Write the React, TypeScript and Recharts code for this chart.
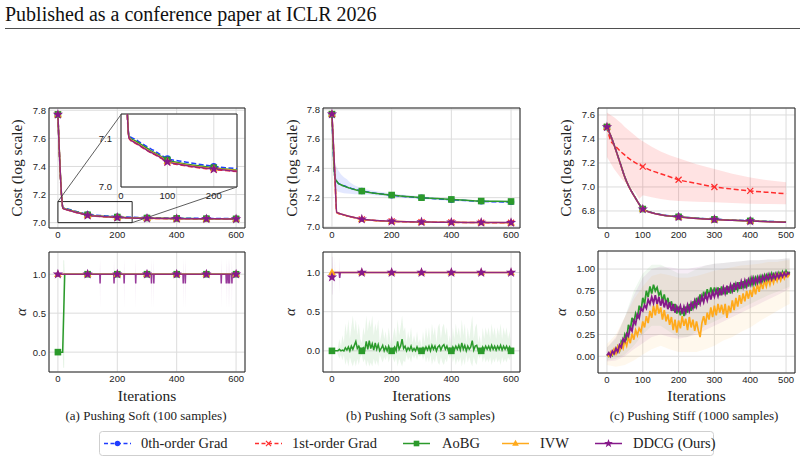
import React from "react";
import {
  ComposedChart,
  Line,
  Area,
  XAxis,
  YAxis,
  CartesianGrid,
  ReferenceArea,
  ReferenceLine,
} from "recharts";

const BLUE = "#1f3cff";
const RED = "#ff2d2d";
const GREEN = "#2b9a2b";
const ORANGE = "#ffaa1c";
const PURPLE = "#86198a";

const SERIF = '"Liberation Serif", "Times New Roman", Times, "DejaVu Serif", serif';
const SANS = '"Liberation Sans", Arial, sans-serif';

// ---------- (a) Pushing Soft, 100 samples: cost ----------
const costAIter = [0, 17, 20, 30, 40, 50, 60, 70, 80, 90, 100, 125, 150, 175, 200, 225, 250, 300, 350, 400, 450, 500, 550, 600];
const costA0th = [7.77, 7.108, 7.104, 7.099, 7.093, 7.087, 7.081, 7.076, 7.07, 7.064, 7.059, 7.054, 7.05, 7.046, 7.043, 7.04, 7.038, 7.035, 7.033, 7.032, 7.031, 7.03, 7.029, 7.029];
const costA1st = [7.77, 7.102, 7.097, 7.091, 7.085, 7.079, 7.073, 7.068, 7.063, 7.057, 7.051, 7.046, 7.042, 7.039, 7.036, 7.034, 7.032, 7.03, 7.029, 7.028, 7.027, 7.026, 7.026, 7.025];
const costAAobg = [7.77, 7.106, 7.101, 7.096, 7.09, 7.084, 7.078, 7.072, 7.067, 7.061, 7.056, 7.05, 7.046, 7.043, 7.04, 7.037, 7.035, 7.033, 7.031, 7.03, 7.029, 7.028, 7.028, 7.027];
const costAIvw = [7.77, 7.104, 7.099, 7.093, 7.087, 7.081, 7.075, 7.07, 7.065, 7.059, 7.053, 7.048, 7.044, 7.041, 7.038, 7.036, 7.034, 7.031, 7.03, 7.029, 7.028, 7.027, 7.027, 7.026];
const costADdcg = [7.77, 7.103, 7.098, 7.092, 7.086, 7.08, 7.074, 7.069, 7.064, 7.058, 7.052, 7.047, 7.043, 7.04, 7.037, 7.035, 7.033, 7.031, 7.03, 7.029, 7.028, 7.027, 7.027, 7.026];

// ---------- (b) Pushing Soft, 3 samples: cost ----------
const costBIter = [0, 10, 16, 20, 30, 40, 50, 60, 75, 100, 125, 150, 200, 250, 300, 350, 400, 450, 500, 550, 600];
const costB0th = [7.77, 7.34, 7.315, 7.302, 7.29, 7.281, 7.273, 7.266, 7.257, 7.246, 7.237, 7.229, 7.217, 7.207, 7.199, 7.192, 7.186, 7.18, 7.175, 7.172, 7.171];
const costB0thLo = [7.77, 7.27, 7.25, 7.24, 7.235, 7.23, 7.228, 7.226, 7.224, 7.224, 7.22, 7.214, 7.205, 7.197, 7.19, 7.184, 7.178, 7.172, 7.167, 7.164, 7.163];
const costB0thHi = [7.77, 7.43, 7.41, 7.39, 7.36, 7.34, 7.325, 7.305, 7.285, 7.265, 7.252, 7.243, 7.229, 7.218, 7.209, 7.2, 7.194, 7.188, 7.183, 7.18, 7.179];
const costB1st = [7.77, 7.34, 7.098, 7.094, 7.087, 7.081, 7.075, 7.07, 7.063, 7.052, 7.047, 7.043, 7.038, 7.035, 7.033, 7.032, 7.031, 7.03, 7.03, 7.029, 7.029];
const costBAobg = [7.77, 7.335, 7.312, 7.3, 7.288, 7.279, 7.272, 7.265, 7.256, 7.245, 7.236, 7.229, 7.218, 7.208, 7.2, 7.194, 7.188, 7.182, 7.177, 7.175, 7.174];
const costBIvw = [7.77, 7.345, 7.099, 7.095, 7.088, 7.082, 7.076, 7.071, 7.064, 7.053, 7.047, 7.043, 7.039, 7.036, 7.034, 7.033, 7.032, 7.031, 7.03, 7.03, 7.029];
const costBDdcg = [7.77, 7.35, 7.1, 7.096, 7.089, 7.083, 7.077, 7.072, 7.065, 7.053, 7.048, 7.044, 7.039, 7.036, 7.034, 7.033, 7.032, 7.031, 7.031, 7.03, 7.03];

// ---------- (c) Pushing Stiff, 1000 samples: cost ----------
const costCIter = [0, 10, 20, 30, 40, 50, 60, 70, 80, 90, 100, 125, 150, 175, 200, 250, 300, 350, 400, 450, 500];
const costC0th = [7.5, 7.43, 7.35, 7.26, 7.17, 7.08, 7.01, 6.955, 6.905, 6.857, 6.817, 6.787, 6.77, 6.759, 6.752, 6.74, 6.731, 6.724, 6.718, 6.713, 6.708];
const costC1st = [7.5, 7.39, 7.35, 7.32, 7.29, 7.265, 7.24, 7.22, 7.2, 7.185, 7.17, 7.135, 7.11, 7.085, 7.06, 7.03, 7.0, 6.983, 6.967, 6.955, 6.944];
const costC1stLo = [7.25, 7.2, 7.15, 7.11, 7.07, 7.04, 7.01, 6.98, 6.95, 6.9, 6.93, 6.915, 6.9, 6.89, 6.883, 6.877, 6.873, 6.866, 6.86, 6.857, 6.855];
const costC1stHi = [7.62, 7.6, 7.58, 7.555, 7.53, 7.5, 7.475, 7.45, 7.425, 7.4, 7.38, 7.335, 7.295, 7.265, 7.24, 7.19, 7.15, 7.11, 7.078, 7.055, 7.04];
const costCAobg = [7.5, 7.43, 7.352, 7.262, 7.172, 7.082, 7.012, 6.957, 6.906, 6.857, 6.816, 6.786, 6.769, 6.758, 6.751, 6.739, 6.73, 6.723, 6.717, 6.712, 6.707];
const costCIvw = [7.5, 7.43, 7.348, 7.258, 7.168, 7.079, 7.009, 6.954, 6.904, 6.855, 6.815, 6.785, 6.768, 6.757, 6.75, 6.738, 6.729, 6.722, 6.716, 6.711, 6.706];
const costCDdcg = [7.5, 7.43, 7.35, 7.26, 7.17, 7.08, 7.01, 6.955, 6.905, 6.856, 6.815, 6.785, 6.768, 6.757, 6.75, 6.738, 6.729, 6.722, 6.716, 6.711, 6.706];

// ---------- (a) alpha ----------
const markIters = [0, 100, 200, 300, 400, 500, 600];
const alphaAAobgIter = [0, 16, 23, 100, 200, 300, 400, 500, 600];
const alphaAAobg = [0, 0, 1, 1, 1, 1, 1, 1, 1];
const alphaAAobgBandIter = [0, 16, 18, 21, 23, 600];
const alphaAAobgLo = [0, 0, -0.2, -0.2, 1, 1];
const alphaAAobgHi = [0, 0, 1.18, 1.18, 1, 1];
const alphaAIvw = [1, 1, 1, 1, 1, 1, 1];
const alphaADips = [142, 189, 223, 262, 315, 323, 422, 429, 550, 567, 573, 578, 586];
const alphaADipVal = [0.88, 0.88, 0.88, 0.88, 0.88, 0.88, 0.88, 0.88, 0.88, 0.88, 0.88, 0.88, 0.88];
const alphaADipLo = [0.55, 0.88, 0.55, 0.55, 0.55, 0.55, 0.55, 0.55, 0.55, 0.55, 0.55, 0.55, 0.55];
const alphaADipHi = [1.2, 1.2, 1.2, 1.2, 1.2, 1.2, 1.2, 1.2, 1.2, 1.2, 1.2, 1.2, 1.2];

// ---------- (b) alpha ----------
const alphaBIvw = [1, 1, 1, 1, 1, 1, 1];
const alphaBDdcgIter = [0, 3, 6, 9, 12, 24, 26, 28, 100, 200, 300, 400, 500, 600];
const alphaBDdcg = [0.94, 1, 0.96, 1, 1, 1, 0.93, 1, 1, 1, 1, 1, 1, 1];
const alphaBDdcgBandIter = [0, 2, 4, 9, 10, 11, 25, 26, 27, 600];
const alphaBDdcgLo = [0.72, 0.72, 1, 1, 0.75, 1, 1, 0.72, 1, 1];
const alphaBDdcgHi = [1.2, 1.2, 1, 1, 1.2, 1, 1, 1.2, 1, 1];
const alphaBIter = Array.from({ length: 121 }, (_, i) => i * 5);
const alphaBAobg = [
  0, 0, 0, 0, 0, 0.02, 0, 0.01, 0, 0.04, 0.01, 0.05, 0, 0.06, 0.02, 0.07, 0.12, 0.03, 0.06, 0.02,
  0, 0.04, 0.01, 0.12, 0.02, 0.13, 0.03, 0.09, 0.01, 0.1, 0.02, 0.08, 0, 0.03, 0.07, 0, 0.05, 0, 0.06, 0,
  0, 0.02, 0.05, 0, 0.12, 0.02, 0.06, 0.15, 0.03, 0.06, 0, 0.04, 0.01, 0.06, 0, 0.03, 0, 0.05, 0, 0.02,
  0, 0.04, 0, 0.05, 0.01, 0.06, 0, 0.07, 0.02, 0.06, 0, 0.05, 0.07, 0.01, 0.06, 0.08, 0.02, 0.06, 0, 0.03,
  0, 0.05, 0.01, 0.06, 0.02, 0.07, 0.01, 0.1, 0.02, 0.07, 0, 0.06, 0.02, 0.05, 0.13, 0.01, 0.06, 0.07, 0, 0.02,
  0, 0.05, 0.01, 0.06, 0.02, 0.06, 0.01, 0.07, 0.02, 0.06, 0.01, 0.06, 0.02, 0.07, 0.01, 0.06, 0.02, 0.06, 0.01, 0.05,
  0,
];
const alphaBAobgHi = [
  0, 0, 0, 0, 0.05, 0.15, 0.05, 0.2, 0.1, 0.35, 0.2, 0.4, 0.15, 0.3, 0.45, 0.25, 0.4, 0.2, 0.35, 0.15,
  0.1, 0.3, 0.2, 0.45, 0.25, 0.4, 0.3, 0.45, 0.2, 0.35, 0.25, 0.4, 0.1, 0.2, 0.3, 0.15, 0.25, 0.1, 0.3, 0.15,
  0.05, 0.2, 0.3, 0.15, 0.4, 0.2, 0.3, 0.45, 0.25, 0.3, 0.1, 0.25, 0.15, 0.3, 0.1, 0.2, 0.1, 0.25, 0.1, 0.15,
  0.05, 0.25, 0.1, 0.3, 0.15, 0.3, 0.1, 0.35, 0.2, 0.3, 0.1, 0.3, 0.35, 0.15, 0.3, 0.35, 0.2, 0.3, 0.1, 0.2,
  0.05, 0.3, 0.15, 0.35, 0.2, 0.3, 0.15, 0.4, 0.2, 0.35, 0.1, 0.3, 0.15, 0.3, 0.45, 0.15, 0.3, 0.35, 0.1, 0.2,
  0.05, 0.3, 0.15, 0.3, 0.2, 0.3, 0.15, 0.35, 0.2, 0.3, 0.15, 0.3, 0.2, 0.35, 0.15, 0.3, 0.2, 0.3, 0.15, 0.25,
  0.05,
];
const alphaBAobgLo = [
  0, 0, 0, 0, -0.05, -0.1, -0.05, -0.12, -0.05, -0.18, -0.1, -0.2, -0.08, -0.15, -0.2, -0.12, -0.2, -0.1, -0.18, -0.08,
  -0.05, -0.15, -0.1, -0.2, -0.12, -0.2, -0.15, -0.2, -0.1, -0.18, -0.12, -0.2, -0.05, -0.1, -0.15, -0.08, -0.12, -0.05, -0.15, -0.08,
  -0.03, -0.1, -0.15, -0.08, -0.2, -0.1, -0.15, -0.2, -0.12, -0.15, -0.05, -0.12, -0.08, -0.15, -0.05, -0.1, -0.05, -0.12, -0.05, -0.08,
  -0.03, -0.12, -0.05, -0.15, -0.08, -0.15, -0.05, -0.18, -0.1, -0.15, -0.05, -0.15, -0.18, -0.08, -0.15, -0.18, -0.1, -0.15, -0.05, -0.1,
  -0.03, -0.15, -0.08, -0.18, -0.1, -0.15, -0.08, -0.2, -0.1, -0.18, -0.05, -0.15, -0.08, -0.15, -0.2, -0.08, -0.15, -0.18, -0.05, -0.1,
  -0.03, -0.15, -0.08, -0.15, -0.1, -0.15, -0.08, -0.18, -0.1, -0.15, -0.08, -0.15, -0.1, -0.18, -0.08, -0.15, -0.1, -0.15, -0.08, -0.12,
  -0.03,
];

// ---------- (c) alpha ----------
const alphaCIter = Array.from({ length: 103 }, (_, i) => i * 5);
const alphaCAobg = [
  0.02, 0, 0.04, 0.01, 0.07, 0.04, 0.11, 0.06, 0.17, 0.13, 0.25, 0.2, 0.36, 0.3, 0.44, 0.38, 0.49, 0.43, 0.58, 0.52,
  0.67, 0.6, 0.75, 0.68, 0.8, 0.72, 0.82, 0.75, 0.79, 0.7, 0.74, 0.63, 0.71, 0.6, 0.67, 0.56, 0.63, 0.52, 0.6, 0.49,
  0.57, 0.47, 0.55, 0.46, 0.57, 0.5, 0.6, 0.52, 0.63, 0.55, 0.67, 0.59, 0.71, 0.63, 0.74, 0.66, 0.77, 0.69, 0.79, 0.7,
  0.79, 0.71, 0.79, 0.7, 0.8, 0.71, 0.79, 0.71, 0.8, 0.72, 0.82, 0.74, 0.83, 0.76, 0.85, 0.77, 0.86, 0.78, 0.88, 0.8,
  0.89, 0.82, 0.9, 0.83, 0.91, 0.85, 0.92, 0.86, 0.93, 0.87, 0.94, 0.88, 0.95, 0.89, 0.95, 0.9, 0.96, 0.91, 0.97, 0.92,
  0.98, 0.93, 0.97,
];
const alphaCIvw = [
  0.02, 0, 0.05, 0.02, 0.08, 0.03, 0.11, 0.06, 0.14, 0.09, 0.18, 0.12, 0.22, 0.15, 0.26, 0.19, 0.3, 0.24, 0.32, 0.28,
  0.4, 0.33, 0.46, 0.38, 0.52, 0.44, 0.58, 0.47, 0.6, 0.49, 0.56, 0.42, 0.53, 0.4, 0.48, 0.36, 0.45, 0.3, 0.42, 0.27,
  0.41, 0.32, 0.46, 0.35, 0.43, 0.3, 0.45, 0.33, 0.42, 0.29, 0.4, 0.3, 0.22, 0.38, 0.46, 0.36, 0.5, 0.42, 0.56, 0.45,
  0.58, 0.47, 0.6, 0.5, 0.59, 0.48, 0.6, 0.44, 0.58, 0.5, 0.64, 0.53, 0.67, 0.57, 0.7, 0.6, 0.72, 0.63, 0.75, 0.66,
  0.76, 0.68, 0.8, 0.71, 0.83, 0.74, 0.85, 0.77, 0.87, 0.8, 0.89, 0.82, 0.9, 0.84, 0.92, 0.86, 0.93, 0.87, 0.94, 0.89,
  0.95, 0.91, 0.94,
];
const alphaCDdcg = [
  0.01, 0.04, 0, 0.06, 0.03, 0.09, 0.05, 0.13, 0.1, 0.2, 0.17, 0.26, 0.23, 0.33, 0.29, 0.41, 0.37, 0.48, 0.44, 0.55,
  0.52, 0.59, 0.55, 0.65, 0.6, 0.68, 0.61, 0.7, 0.6, 0.68, 0.58, 0.66, 0.56, 0.64, 0.54, 0.62, 0.52, 0.6, 0.5, 0.57,
  0.52, 0.58, 0.49, 0.57, 0.5, 0.59, 0.52, 0.61, 0.55, 0.64, 0.57, 0.66, 0.6, 0.69, 0.62, 0.71, 0.64, 0.73, 0.65, 0.74,
  0.68, 0.76, 0.69, 0.78, 0.7, 0.79, 0.72, 0.81, 0.73, 0.82, 0.75, 0.84, 0.76, 0.85, 0.77, 0.86, 0.79, 0.87, 0.8, 0.88,
  0.82, 0.9, 0.83, 0.9, 0.84, 0.91, 0.85, 0.92, 0.87, 0.93, 0.88, 0.94, 0.88, 0.94, 0.89, 0.95, 0.9, 0.95, 0.91, 0.96,
  0.92, 0.96, 0.94,
];
const alphaCBandIter = [0, 25, 50, 75, 100, 125, 150, 175, 200, 225, 250, 275, 300, 325, 350, 375, 400, 425, 450, 475, 500, 510];
const alphaCIvwLo = [-0.1, -0.12, -0.1, -0.05, 0.02, 0.08, 0.12, 0.08, 0.05, 0.05, 0.05, 0.08, 0.12, 0.18, 0.22, 0.28, 0.33, 0.4, 0.46, 0.52, 0.58, 0.6];
const alphaCIvwHi = [0.14, 0.25, 0.45, 0.65, 0.8, 0.92, 0.95, 0.93, 0.9, 0.9, 0.92, 0.95, 0.98, 1.0, 1.02, 1.04, 1.05, 1.06, 1.08, 1.08, 1.1, 1.1];
const alphaCDdcgLo = [-0.06, -0.05, 0.0, 0.08, 0.15, 0.22, 0.25, 0.22, 0.2, 0.22, 0.25, 0.3, 0.35, 0.4, 0.45, 0.5, 0.55, 0.6, 0.65, 0.7, 0.75, 0.78];
const alphaCDdcgHi = [0.1, 0.22, 0.45, 0.7, 0.9, 1.0, 1.03, 1.02, 1.0, 1.0, 1.02, 1.04, 1.06, 1.07, 1.08, 1.09, 1.1, 1.1, 1.11, 1.11, 1.12, 1.12];
const alphaCAobgLo = [-0.05, -0.03, 0.02, 0.12, 0.25, 0.35, 0.35, 0.28, 0.22, 0.22, 0.28, 0.35, 0.4, 0.45, 0.5, 0.55, 0.6, 0.65, 0.7, 0.74, 0.78, 0.8];
const alphaCAobgHi = [0.1, 0.2, 0.45, 0.75, 0.95, 1.05, 1.05, 1.0, 0.95, 0.95, 1.0, 1.04, 1.06, 1.07, 1.08, 1.09, 1.1, 1.1, 1.11, 1.11, 1.12, 1.12];

// ---------- helpers ----------
type Pt = { x: number; y: number | [number, number] };
const zip = (xs: number[], ys: number[]): Pt[] => xs.map((x, i) => ({ x, y: ys[i] }));
const band = (xs: number[], lo: number[], hi: number[]): Pt[] => xs.map((x, i) => ({ x, y: [lo[i], hi[i]] }));

// flat line at 1 with short downward spikes at the given iterations
const spikeLine = (marks: number[], dips: number[], vals: number[]): Pt[] =>
  [
    ...marks.map((x) => ({ x, y: 1 })),
    ...dips.flatMap((d, i) => [
      { x: d - 1, y: 1 },
      { x: d, y: vals[i] },
      { x: d + 1, y: 1 },
    ]),
  ].sort((a, b) => a.x - b.x);
const spikeBand = (dips: number[], lo: number[], hi: number[]): Pt[] =>
  [
    { x: 0, y: [1, 1] as [number, number] },
    ...dips.flatMap((d, i) => [
      { x: d - 1, y: [1, 1] as [number, number] },
      { x: d, y: [lo[i], hi[i]] as [number, number] },
      { x: d + 1, y: [1, 1] as [number, number] },
    ]),
    { x: 600, y: [1, 1] as [number, number] },
  ];

type Kind = "circle" | "x" | "square" | "triangle" | "star";

function starPath(cx: number, cy: number, R: number, r: number) {
  let d = "";
  for (let i = 0; i < 10; i++) {
    const rad = i % 2 === 0 ? R : r;
    const a = -Math.PI / 2 + (i * Math.PI) / 5;
    d += `${i === 0 ? "M" : "L"}${cx + rad * Math.cos(a)},${cy + rad * Math.sin(a)}`;
  }
  return d + "Z";
}

function Marker({ kind, cx, cy, color, s = 1 }: { kind: Kind; cx: number; cy: number; color: string; s?: number }) {
  switch (kind) {
    case "circle":
      return <circle cx={cx} cy={cy} r={3.2 * s} fill={color} />;
    case "x":
      return (
        <path
          d={`M${cx - 3 * s},${cy - 3 * s}L${cx + 3 * s},${cy + 3 * s}M${cx - 3 * s},${cy + 3 * s}L${cx + 3 * s},${cy - 3 * s}`}
          stroke={color}
          strokeWidth={1.2}
        />
      );
    case "square":
      return <rect x={cx - 3.3 * s} y={cy - 3.3 * s} width={6.6 * s} height={6.6 * s} fill={color} />;
    case "triangle":
      return <path d={`M${cx},${cy - 4.3 * s}L${cx + 3.9 * s},${cy + 2.7 * s}L${cx - 3.9 * s},${cy + 2.7 * s}Z`} fill={color} />;
    default:
      return <path d={starPath(cx, cy, 5.4 * s, 2.2 * s)} fill={color} />;
  }
}

const marks = (kind: Kind, color: string, last = 600) => (p: any) => {
  const { cx, cy, payload, index } = p;
  const key = `m${index}`;
  if (cx == null || cy == null || !payload || payload.x % 100 !== 0 || payload.x > last) return <g key={key} />;
  return (
    <g key={key}>
      <Marker kind={kind} cx={cx} cy={cy} color={color} />
    </g>
  );
};

function series(
  id: string,
  data: Pt[],
  color: string,
  kind: Kind | null,
  opts: { dash?: string; last?: number; curve?: "monotone" | "linear"; width?: number; opacity?: number } = {}
) {
  return (
    <Line
      key={id}
      data={data}
      dataKey="y"
      type={opts.curve ?? "monotone"}
      stroke={color}
      strokeWidth={opts.width ?? 1.5}
      strokeOpacity={opts.opacity ?? 1}
      strokeDasharray={opts.dash}
      dot={kind ? marks(kind, color, opts.last) : false}
      activeDot={false}
      isAnimationActive={false}
    />
  );
}

function shade(id: string, data: Pt[], color: string, opacity: number) {
  return (
    <Area
      key={id}
      data={data}
      dataKey="y"
      type="linear"
      fill={color}
      fillOpacity={opacity}
      stroke="none"
      dot={false}
      activeDot={false}
      isAnimationActive={false}
    />
  );
}

type Box = { left: number; top: number; width: number; height: number };
const YW = 44;
const XH = 22;
const PAD = 4;
const tickStyle = { fontSize: 9.5, fill: "#222", fontFamily: SANS };

function Panel(props: {
  box: Box;
  xDomain: [number, number];
  yDomain: [number, number];
  xTicks: number[];
  yTicks: number[];
  digits: number;
  bg?: string;
  xGap?: number;
  yGap?: number;
  children: React.ReactNode;
}) {
  const { box, xDomain, yDomain, xTicks, yTicks, digits } = props;
  return (
    <div style={{ position: "absolute", left: box.left - YW, top: box.top - PAD }}>
      <ComposedChart
        width={YW + box.width + PAD}
        height={PAD + box.height + XH}
        margin={{ top: PAD, right: PAD, bottom: 0, left: 0 }}
      >
        <CartesianGrid stroke="#dcdcdc" strokeWidth={1} fill={props.bg ?? "none"} />
        <XAxis
          type="number"
          dataKey="x"
          domain={xDomain}
          ticks={xTicks}
          interval={0}
          allowDataOverflow
          height={XH}
          tick={tickStyle}
          tickLine={false}
          axisLine={false}
          tickSize={props.xGap ?? 3}
          tickMargin={0}
        />
        <YAxis
          type="number"
          domain={yDomain}
          ticks={yTicks}
          interval={0}
          allowDataOverflow
          width={YW}
          tick={tickStyle}
          tickLine={false}
          axisLine={false}
          tickSize={props.yGap ?? 3}
          tickMargin={0}
          tickFormatter={(v: number) => v.toFixed(digits)}
        />
        {props.children}
        <ReferenceArea
          x1={xDomain[0]}
          x2={xDomain[1]}
          y1={yDomain[0]}
          y2={yDomain[1]}
          fill="none"
          stroke="#222"
          strokeWidth={1}
        />
      </ComposedChart>
    </div>
  );
}

const BOX_A_TOP: Box = { left: 49, top: 108, width: 196, height: 120 };
const BOX_B_TOP: Box = { left: 323, top: 108, width: 197, height: 120 };
const BOX_C_TOP: Box = { left: 598, top: 108, width: 197, height: 120 };
const BOX_A_BOT: Box = { left: 49, top: 252, width: 196, height: 120 };
const BOX_B_BOT: Box = { left: 323, top: 252, width: 197, height: 120 };
const BOX_C_BOT: Box = { left: 598, top: 251, width: 197, height: 122 };
const BOX_INSET: Box = { left: 121, top: 114, width: 116, height: 73 };

const SOFT_X: [number, number] = [-30, 630];
const STIFF_X: [number, number] = [-25, 525];
const SOFT_TICKS = [0, 200, 400, 600];
const STIFF_TICKS = [0, 100, 200, 300, 400, 500];
const COST_TICKS = [7.0, 7.2, 7.4, 7.6, 7.8];

// zoom window of the inset, and where the inset sits, in (a)'s data units
const ZOOM = { x1: 0, x2: 250, y1: 7.0, y2: 7.15 };
const INSET_AT = { x1: 212.5, x2: 603, y1: 7.254, y2: 7.769 };

function costASeries(prefix: string) {
  return [
    series(`${prefix}0`, zip(costAIter, costA0th), BLUE, "circle", { dash: "5 2.5" }),
    series(`${prefix}1`, zip(costAIter, costA1st), RED, "x", { dash: "5 2.5" }),
    series(`${prefix}2`, zip(costAIter, costAAobg), GREEN, "square"),
    series(`${prefix}3`, zip(costAIter, costAIvw), ORANGE, "triangle"),
    series(`${prefix}4`, zip(costAIter, costADdcg), PURPLE, "star", { opacity: 0.9 }),
  ];
}

const LEGEND: { label: string; color: string; kind: Kind; dash?: string; x: number; tx: number }[] = [
  { label: "0th-order Grad", color: BLUE, kind: "circle", dash: "4 2.5", x: 104, tx: 141 },
  { label: "1st-order Grad", color: RED, kind: "x", dash: "4 2.5", x: 255, tx: 292 },
  { label: "AoBG", color: GREEN, kind: "square", x: 403, tx: 442 },
  { label: "IVW", color: ORANGE, kind: "triangle", x: 502, tx: 540 },
  { label: "DDCG (Ours)", color: PURPLE, kind: "star", x: 595, tx: 633 },
];

const serifText = { fontFamily: SERIF };

function Overlay() {
  const costLabel = [16, 291.5, 565];
  const alphaLabel = [21, 289.5, 560.5];
  const iterLabel = [147, 421.5, 696.5];
  const captions = [
    { x: 146, t: "(a) Pushing Soft (100 samples)" },
    { x: 420.5, t: "(b) Pushing Soft (3 samples)" },
    { x: 694, t: "(c) Pushing Stiff (1000 samples)" },
  ];
  return (
    <svg width={804} height={462} style={{ position: "absolute", left: 0, top: 0, pointerEvents: "none" }}>
      <text x={5} y={21} fontSize={20} style={serifText} fill="#111">
        Published as a conference paper at ICLR 2026
      </text>
      <line x1={5} x2={800} y1={28.5} y2={28.5} stroke="#222" strokeWidth={0.8} />
      {costLabel.map((x) => (
        <text
          key={`c${x}`}
          transform={`translate(${x},168) rotate(-90)`}
          textAnchor="middle"
          dominantBaseline="central"
          fontSize={15.5}
          style={serifText}
          fill="#222"
        >
          Cost (log scale)
        </text>
      ))}
      {alphaLabel.map((x) => (
        <text
          key={`a${x}`}
          transform={`translate(${x},312) rotate(-90)`}
          textAnchor="middle"
          dominantBaseline="central"
          fontSize={15}
          fontStyle="italic"
          style={serifText}
          fill="#222"
        >
          α
        </text>
      ))}
      {iterLabel.map((x) => (
        <text key={`i${x}`} x={x} y={401} textAnchor="middle" fontSize={15.5} style={serifText} fill="#222">
          Iterations
        </text>
      ))}
      {captions.map((c) => (
        <text key={c.t} x={c.x} y={420} textAnchor="middle" fontSize={13} style={serifText} fill="#222">
          {c.t}
        </text>
      ))}
      <rect x={99.5} y={431.5} width={614} height={24} rx={3} fill="#fff" stroke="#cfcfcf" strokeWidth={1} />
      {LEGEND.map((e) => (
        <g key={e.label}>
          <line x1={e.x} x2={e.x + 27} y1={443.5} y2={443.5} stroke={e.color} strokeWidth={1.5} strokeDasharray={e.dash} />
          <Marker kind={e.kind} cx={e.x + 13.5} cy={443.5} color={e.color} s={0.85} />
          <text x={e.tx} y={448} fontSize={14.5} style={serifText} fill="#222">
            {e.label}
          </text>
        </g>
      ))}
    </svg>
  );
}

export default function App() {
  return (
    <div
      style={{
        position: "absolute",
        left: 0,
        top: 0,
        width: 804,
        height: 462,
        background: "#fff",
        overflow: "hidden",
      }}
    >
      {/* (a) cost with zoomed inset */}
      <Panel box={BOX_A_TOP} xDomain={SOFT_X} yDomain={[6.962, 7.816]} xTicks={SOFT_TICKS} yTicks={COST_TICKS} digits={1}>
        {costASeries("ca")}
        <ReferenceArea x1={ZOOM.x1} x2={ZOOM.x2} y1={ZOOM.y1} y2={ZOOM.y2} fill="none" stroke="#222" strokeWidth={1} />
        <ReferenceLine
          segment={[
            { x: ZOOM.x1, y: ZOOM.y2 },
            { x: INSET_AT.x1, y: INSET_AT.y2 },
          ]}
          stroke="#333"
          strokeWidth={0.8}
        />
        <ReferenceLine
          segment={[
            { x: ZOOM.x2, y: ZOOM.y1 },
            { x: INSET_AT.x2, y: INSET_AT.y1 },
          ]}
          stroke="#333"
          strokeWidth={0.8}
        />
      </Panel>
      <Panel
        box={BOX_INSET}
        xDomain={[ZOOM.x1, ZOOM.x2]}
        yDomain={[7.0, 7.151]}
        xTicks={[0, 100, 200]}
        yTicks={[7.0, 7.1]}
        digits={1}
        bg="#fff"
        xGap={5}
        yGap={9}
      >
        {costASeries("ia")}
      </Panel>

      {/* (b) cost */}
      <Panel box={BOX_B_TOP} xDomain={SOFT_X} yDomain={[6.993, 7.812]} xTicks={SOFT_TICKS} yTicks={COST_TICKS} digits={1}>
        {shade("bb", band(costBIter, costB0thLo, costB0thHi), "#3a5cff", 0.14)}
        {series("cb0", zip(costBIter, costB0th), BLUE, "circle", { dash: "5 2.5" })}
        {series("cb1", zip(costBIter, costB1st), RED, "x", { dash: "5 2.5" })}
        {series("cb2", zip(costBIter, costBAobg), GREEN, "square")}
        {series("cb3", zip(costBIter, costBIvw), ORANGE, "triangle")}
        {series("cb4", zip(costBIter, costBDdcg), PURPLE, "star", { opacity: 0.9 })}
      </Panel>

      {/* (c) cost */}
      <Panel
        box={BOX_C_TOP}
        xDomain={STIFF_X}
        yDomain={[6.658, 7.658]}
        xTicks={STIFF_TICKS}
        yTicks={[6.8, 7.0, 7.2, 7.4, 7.6]}
        digits={1}
      >
        {shade("cbr", band(costCIter, costC1stLo, costC1stHi), "#ff1a1a", 0.12)}
        {series("cc0", zip(costCIter, costC0th), BLUE, "circle", { dash: "5 2.5", last: 400 })}
        {series("cc1", zip(costCIter, costC1st), RED, "x", { dash: "5 2.5", last: 400 })}
        {series("cc2", zip(costCIter, costCAobg), GREEN, "square", { last: 400 })}
        {series("cc3", zip(costCIter, costCIvw), ORANGE, "triangle", { last: 400 })}
        {series("cc4", zip(costCIter, costCDdcg), PURPLE, "star", { last: 400, opacity: 0.9 })}
      </Panel>

      {/* (a) alpha */}
      <Panel box={BOX_A_BOT} xDomain={SOFT_X} yDomain={[-0.255, 1.285]} xTicks={SOFT_TICKS} yTicks={[0, 0.5, 1]} digits={1}>
        {shade("aag", band(alphaAAobgBandIter, alphaAAobgLo, alphaAAobgHi), GREEN, 0.12)}
        {shade("aap", spikeBand(alphaADips, alphaADipLo, alphaADipHi), PURPLE, 0.12)}
        {series("aa2", zip(alphaAAobgIter, alphaAAobg), GREEN, "square", { curve: "linear" })}
        {series("aa3", zip(markIters, alphaAIvw), ORANGE, "triangle", { curve: "linear" })}
        {series("aa4", spikeLine(markIters, alphaADips, alphaADipVal), PURPLE, "star", { curve: "linear", opacity: 0.85 })}
      </Panel>

      {/* (b) alpha */}
      <Panel box={BOX_B_BOT} xDomain={SOFT_X} yDomain={[-0.27, 1.262]} xTicks={SOFT_TICKS} yTicks={[0, 0.5, 1]} digits={1}>
        {shade("bag", band(alphaBIter, alphaBAobgLo, alphaBAobgHi), GREEN, 0.1)}
        {shade("bap", band(alphaBDdcgBandIter, alphaBDdcgLo, alphaBDdcgHi), PURPLE, 0.12)}
        {series("ba2", zip(alphaBIter, alphaBAobg), GREEN, "square", { curve: "linear" })}
        {series("ba3", zip(markIters, alphaBIvw), ORANGE, "triangle", { curve: "linear" })}
        {series("ba4", zip(alphaBDdcgIter, alphaBDdcg), PURPLE, "star", { curve: "linear", opacity: 0.9 })}
      </Panel>

      {/* (c) alpha */}
      <Panel
        box={BOX_C_BOT}
        xDomain={STIFF_X}
        yDomain={[-0.192, 1.207]}
        xTicks={STIFF_TICKS}
        yTicks={[0, 0.25, 0.5, 0.75, 1]}
        digits={2}
      >
        {shade("cag", band(alphaCBandIter, alphaCAobgLo, alphaCAobgHi), GREEN, 0.07)}
        {shade("cao", band(alphaCBandIter, alphaCIvwLo, alphaCIvwHi), ORANGE, 0.08)}
        {shade("cap", band(alphaCBandIter, alphaCDdcgLo, alphaCDdcgHi), PURPLE, 0.08)}
        {series("ca2", zip(alphaCIter, alphaCAobg), GREEN, null, { curve: "linear", width: 1.7 })}
        {series("ca3", zip(alphaCIter, alphaCIvw), ORANGE, null, { curve: "linear", width: 1.7 })}
        {series("ca4", zip(alphaCIter, alphaCDdcg), PURPLE, null, { curve: "linear", width: 1.8 })}
      </Panel>

      <Overlay />
    </div>
  );
}
